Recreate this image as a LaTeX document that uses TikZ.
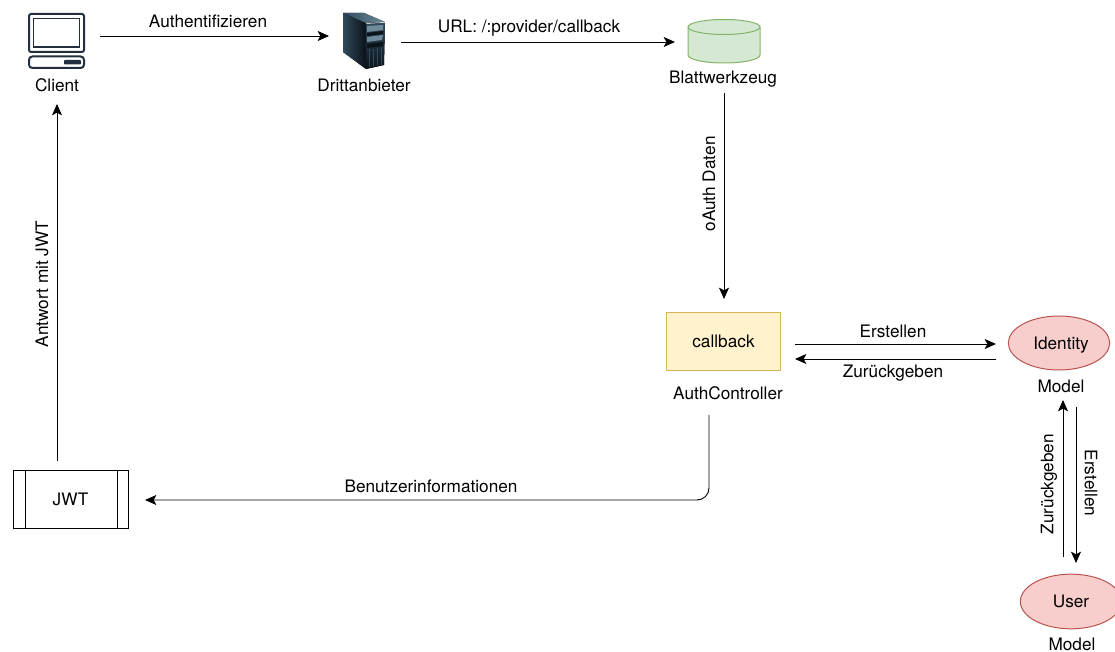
\documentclass[tikz,border=0pt]{standalone}
\usepackage{fontspec}
\setmainfont{TeX Gyre Heros}
\usetikzlibrary{arrows.meta,shapes.geometric}
\definecolor{navy}{HTML}{232F3E}
\definecolor{greenfill}{HTML}{D5E8D4}
\definecolor{greenline}{HTML}{82B366}
\definecolor{yellowfill}{HTML}{FFF2CC}
\definecolor{yellowline}{HTML}{D6B656}
\definecolor{redfill}{HTML}{F8CECC}
\definecolor{redline}{HTML}{B85450}
\definecolor{srvdark}{HTML}{0B1218}
\definecolor{srvmid}{HTML}{2F4A5C}
\definecolor{srvlight}{HTML}{6F8A9A}
\tikzset{
  fnt/.style={font=\fontsize{12.9}{15}\selectfont},
  lbl/.style={fnt,inner sep=0pt,text=black},
  arr/.style={draw=black,line width=0.7pt,-{Stealth[length=8.5pt,width=7.5pt,inset=2pt]}},
  rbox/.style={draw=#1,line width=0.75pt},
  iconline/.style={draw=navy,line width=1.3pt,rounded corners=1.6pt},
}
\begin{document}
\begin{tikzpicture}[x=0.75pt,y=-0.75pt]
\useasboundingbox (0,0) rectangle (1115,652);
% client icon
\draw[iconline,line width=1.5pt] (29,14) rectangle (84,52);
\draw[iconline,line width=1.1pt,rounded corners=0pt] (33.5,18.5) rectangle (79.5,47);
\draw[iconline,line width=1.5pt,rounded corners=2.5pt] (29,56.5) rectangle (84,68);
\fill[navy,rounded corners=0.6pt] (64,60) rectangle (81,64.5);
\node[lbl] (client) at (57,85) {Client};
% server icon
\fill[left color=srvmid,right color=srvdark] (343,13) -- (366,21) -- (366,69) -- (343,52) -- cycle;
\fill[left color=srvmid,right color=srvlight] (343,13) -- (364,13) -- (385,22) -- (366,23) -- cycle;
\fill[top color=srvmid,bottom color=srvdark] (366,24) -- (385,23) -- (384,65) -- (366,69) -- cycle;
\fill[srvlight] (367,26) -- (383,25) -- (383,30) -- (367,32) -- cycle;
\fill[srvdark] (367,33) -- (383,31) -- (383,34) -- (367,36) -- cycle;
\fill[srvlight] (367,37) -- (383,35) -- (382,40) -- (367,42) -- cycle;
\fill[srvdark] (367,44) -- (383,42) -- (383,46) -- (367,48) -- cycle;
\draw[srvmid,line width=0.3pt] (369,49) -- (369,67) (373,49) -- (373,66.5) (377,48) -- (377,65.5) (381,47.5) -- (381,65);
\node[lbl] (dritt) at (364,85) {Drittanbieter};
% cylinder
\filldraw[fill=greenfill,rbox=greenline] (688,27) -- (688,55) arc[start angle=180,end angle=0,x radius=36,y radius=8] -- (760,27) arc[start angle=0,end angle=-180,x radius=36,y radius=7.5] -- cycle;
\draw[rbox=greenline] (688,27) arc[start angle=180,end angle=0,x radius=36,y radius=7.5];
\node[lbl] (blatt) at (723,79) {Blattwerkzeug};
% boxes
\node[draw=yellowline,fill=yellowfill,line width=0.75pt,minimum width=85.5pt,minimum height=43pt,inner sep=0pt,fnt] (callback) at (723.5,341.5) {callback};
\node[lbl] (authc) at (728,393) {AuthController};
\node[draw=redline,fill=redfill,line width=0.75pt,ellipse,minimum width=76pt,minimum height=40.5pt,inner sep=0pt,fnt,text depth=0pt] (identity) at (1059,343) {\hspace*{3pt}Identity};
\node[lbl] (m1) at (1061,386) {Model};
\node[draw=redline,fill=redfill,line width=0.75pt,ellipse,minimum width=76pt,minimum height=41pt,inner sep=0pt,fnt] (user) at (1071,601.5) {User};
\node[lbl] (m2) at (1072,644) {Model};
\node[draw=black,line width=0.75pt,minimum width=86.25pt,minimum height=42.75pt,inner sep=0pt,fnt] (jwt) at (70.5,499.5) {JWT};
\draw[black,line width=0.75pt] (25,471) -- (25,528) (117,471) -- (117,528);
% connector ends
\coordinate (c1a) at (100,36); \coordinate (c1b) at (329,36);
\coordinate (c2a) at (401,42); \coordinate (c2b) at (675,42);
\coordinate (c3a) at (724,93); \coordinate (c3b) at (724,299);
\coordinate (c4a) at (795,344); \coordinate (c4b) at (996,344);
\coordinate (c5a) at (996,359); \coordinate (c5b) at (795,359);
\coordinate (c6a) at (1063,557); \coordinate (c6b) at (1063,400);
\coordinate (c7a) at (1076,407); \coordinate (c7b) at (1076,563);
\coordinate (c8a) at (709,415); \coordinate (c8b) at (145,500);
\coordinate (c9a) at (57,461); \coordinate (c9b) at (57,104);
\draw[arr] (c1a) -- (c1b);
\draw[arr] (c2a) -- (c2b);
\draw[arr] (c3a) -- (c3b);
\draw[arr] (c4a) -- (c4b);
\draw[arr] (c5a) -- (c5b);
\draw[arr] (c6a) -- (c6b);
\draw[arr] (c7a) -- (c7b);
\draw[arr,rounded corners=9pt] (c8a) |- (c8b);
\draw[arr] (c9a) -- (c9b);
% labels
\node[lbl] (l1) at (208,21) {Authentifizieren};
\node[lbl] (l2) at (529,28) {URL: /:provider/callback};
\node[lbl,rotate=90] (l3) at (709,184) {oAuth Daten};
\node[lbl,rotate=90] (l4) at (42,284) {Antwort mit JWT};
\node[lbl] (l5) at (893,331) {Erstellen};
\node[lbl] (l6) at (893,373) {Zurückgeben};
\node[lbl,rotate=90] (l7) at (1049,484) {Zurückgeben};
\node[lbl,rotate=-90] (l8) at (1091,483) {Erstellen};
\node[lbl] (l9) at (431,486) {Benutzerinformationen};
\end{tikzpicture}
\end{document}
